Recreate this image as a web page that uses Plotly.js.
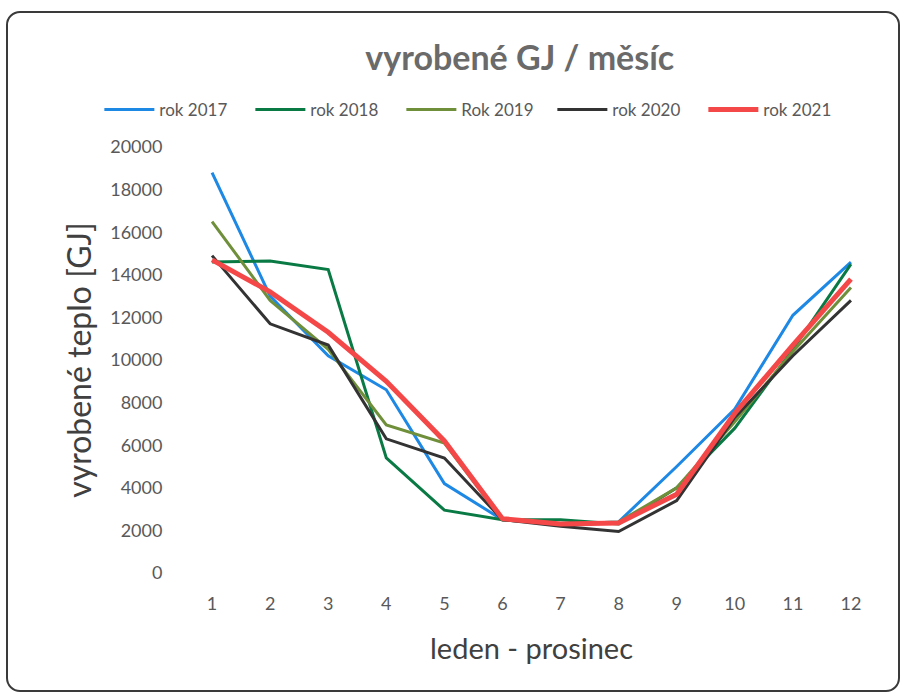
<!DOCTYPE html>
<html>
<head>
<meta charset="utf-8">
<script src="https://cdn.plot.ly/plotly-3.0.1.min.js"></script>
<style>
body{margin:0;background:#fff;}
#wrap{position:relative;width:904px;height:698px;}
#chart{width:904px;height:698px;}
#frame{position:absolute;left:6px;top:11px;width:890px;height:677px;border:2px solid #3a3a3a;border-radius:14px;pointer-events:none;}
</style>
</head>
<body>
<div id="wrap"><div id="chart"></div><div id="frame"></div></div>
<script>
const months = [1,2,3,4,5,6,7,8,9,10,11,12];
const rok2017 = [18800,13000,10200,8600,4200,2500,2300,2400,5000,7700,12100,14600];
const rok2018 = [14600,14650,14250,5400,2950,2500,2500,2300,4000,6800,10500,14500];
const rok2019 = [16500,12800,10500,6950,6100,2500,2300,2400,4000,7100,10400,13400];
const rok2020 = [14900,11700,10700,6300,5400,2500,2200,1950,3400,7300,10200,12800];
const rok2021 = [14700,13200,11300,9000,6200,2550,2300,2350,3700,7500,10700,13800];
const seriesNames = ["rok 2017","rok 2018","Rok 2019","rok 2020","rok 2021"];
const seriesData = [rok2017,rok2018,rok2019,rok2020,rok2021];
const colors = ["#1E88E5","#0A7A45","#6F8F3A","#333333","#F44848"];
const widths = [3,3,3,3,5];

const traces = seriesData.map((d,i)=>({
  x: months, y: d, type:'scatter', mode:'lines', name: seriesNames[i],
  line:{color:colors[i], width:widths[i]}
}));

const font = "Lato, 'Open Sans', sans-serif";
const layout = {
  width:904, height:698,
  margin:{l:183, r:24, t:147, b:125},
  paper_bgcolor:'#fff', plot_bgcolor:'#fff',
  font:{family:font, color:'#595959', size:15},
  title:{text:'<b>vyrobené GJ / měsíc</b>', x:0.575, xanchor:'center', y:0.917, yanchor:'middle',
         font:{family:font, size:34, color:'#6a6a6a'}},
  showlegend:true,
  legend:{orientation:'h', x:-0.120, xanchor:'left', y:1.087, yanchor:'middle',
          font:{family:font, size:17, color:'#595959'}, entrywidth:86, entrywidthmode:'pixels',
          itemwidth:50, traceorder:'normal', bgcolor:'rgba(0,0,0,0)'},
  xaxis:{range:[0.5,12.5], tickvals:months, ticktext:months.map(String),
         showgrid:false, zeroline:false, showline:false,
         ticks:'outside', ticklen:14, tickcolor:'rgba(0,0,0,0)',
         tickfont:{family:font, size:18, color:'#595959'},
         title:{text:'leden - prosinec', standoff:26, font:{family:font, size:29, color:'#404040'}}},
  yaxis:{range:[0,20000], tickvals:[0,2000,4000,6000,8000,10000,12000,14000,16000,18000,20000],
         ticktext:['0','2000','4000','6000','8000','10000','12000','14000','16000','18000','20000'],
         showgrid:false, zeroline:false, showline:false,
         ticks:'outside', ticklen:16, tickcolor:'rgba(0,0,0,0)',
         tickfont:{family:font, size:18, color:'#595959'},
         title:{text:'vyrobené teplo [GJ]', standoff:8, font:{family:font, size:32, color:'#404040'}}}
};
Plotly.newPlot('chart', traces, layout, {displayModeBar:false, staticPlot:true});
</script>
</body>
</html>
